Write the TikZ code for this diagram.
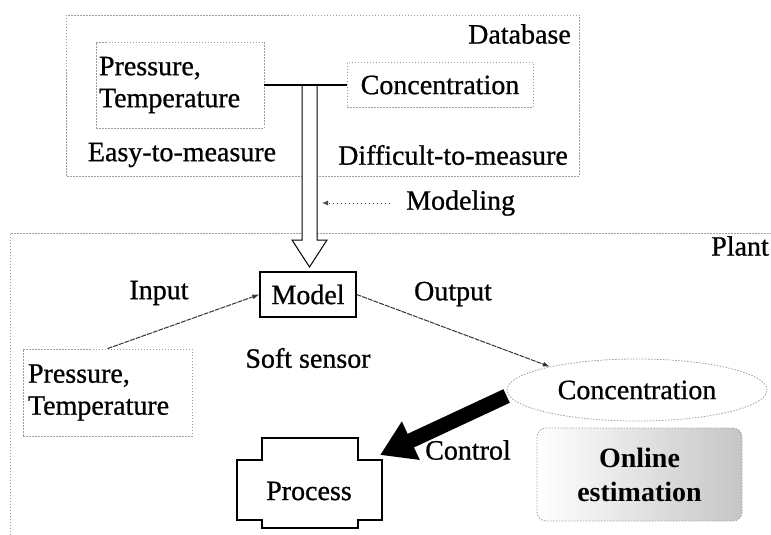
\documentclass[tikz,border=0pt]{standalone}
\usepackage{fontspec}
\setmainfont{Liberation Serif}[UprightFeatures={FakeBold=0.8}]
\usetikzlibrary{arrows.meta,shapes.geometric}

\begin{document}
\begin{tikzpicture}[x=1pt,y=-1pt,
  txt/.style={font=\fontsize{28}{32}\selectfont, inner sep=0pt},
  frame/.style={draw=gray!75, line width=0.8pt, dash pattern=on 1.5pt off 1.5pt},
  dbox/.style={frame, font=\fontsize{28}{32}\selectfont},
  modelbox/.style={draw=black, line width=1.3pt, font=\fontsize{28}{32}\selectfont},
  conn/.style={draw=black, line width=1.4pt},
  signal/.style={draw=black!80, line width=1pt, dash pattern=on 5pt off 1pt,
    -{Latex[length=7pt,width=5pt]}},
  hint/.style={draw=black!70, line width=0.9pt, dash pattern=on 1pt off 3pt,
    -{Latex[length=6pt,width=5pt]}}
]
\useasboundingbox (0,0) rectangle (771,535);

% Database area
\draw[frame] (66,15) rectangle (579,176);
\node[txt, anchor=east] (dblabel) at (571,34) {Database};
\node[dbox, minimum width=168pt, minimum height=86pt, inner sep=0pt,
      text width=162pt, align=left] (ptA) at (180,85)
      {\fontsize{28}{32}\selectfont Pressure,\\Temperature};
\node[dbox, minimum width=186pt, minimum height=45pt] (concA) at (440,85) {Concentration};
\node[txt] (easy) at (182,155) {Easy-to-measure};
\node[txt] (hard) at (453,155) {Difficult-to-measure};

% Plant area
\draw[frame] (10,535) -- (10,233) -- (771,233);
\node[txt, anchor=east] (plant) at (769,246) {Plant};

% Modeling: hollow double arrow from the data junction down to the model
\coordinate (jl) at (302,85);
\coordinate (jr) at (317,85);
\draw[black, line width=1pt, fill=white]
  (jl) -- (302,240) -- (292,240) -- (309.5,267) -- (327,240) -- (317,240) -- (jr);
\draw[conn] (ptA.east) -- (concA.west);

\node[txt, anchor=west] (modeling) at (406,203) {Modeling};
\coordinate (shaftR) at (322,203);
\draw[hint, shorten <=16pt] (modeling.west) -- (shaftR);

% Soft sensor
\node[modelbox, minimum width=96pt, minimum height=45pt, inner sep=0pt] (model) at (308,294.5) {Model};
\node[txt] (input) at (159,293) {Input};
\node[txt] (output) at (453,294) {Output};
\node[txt] (soft) at (308,358) {Soft sensor};

\node[dbox, minimum width=169pt, minimum height=87pt, inner sep=0pt,
      text width=159pt, align=left] (ptB) at (107.5,392.5)
      {\fontsize{28}{38}\selectfont Pressure,\\Temperature};

\node[dbox, ellipse, minimum width=260pt, minimum height=62pt, inner sep=0pt] (concB) at (637,390) {Concentration};

\draw[signal] (ptB.north) -- (model.west);
\draw[signal] (model.east) -- (concB.165);

% Online estimation
\node[frame, rounded corners=9pt, left color=white, right color=gray!45,
      minimum width=205pt, minimum height=93pt, inner sep=0pt, align=center,
      font=\bfseries\fontsize{28}{34}\selectfont] (online) at (639.5,474.5) {Online\\estimation};

% Process
\node[txt] (process) at (309,491) {Process};
\draw[black, line width=1.1pt]
  (262,438) -- (358,438) -- (358,460) -- (382,460) -- (382,520) -- (358,520)
  -- (358,528) -- (262,528) -- (262,520) -- (237,520) -- (237,460) -- (262,460) -- cycle;
\coordinate (ptip) at (380,455);

% Control
\node[txt] (control) at (468,450) {Control};
\draw[black, line width=15pt, -{Triangle[length=34pt,width=40pt]}]
  ([yshift=-6pt]concB.west) -- (ptip);

\end{tikzpicture}
\end{document}
